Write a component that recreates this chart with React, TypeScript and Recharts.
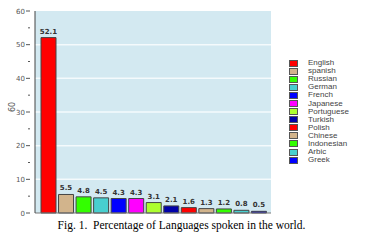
import React from 'react'
import { Bar, BarChart, CartesianGrid, Cell, LabelList, XAxis, YAxis } from 'recharts'

const languages = ['English', 'spanish', 'Russian', 'German', 'French', 'Japanese', 'Portuguese', 'Turkish', 'Polish', 'Chinese', 'Indonesian', 'Arbic', 'Greek']
const percents = [52.1, 5.5, 4.8, 4.5, 4.3, 4.3, 3.1, 2.1, 1.6, 1.3, 1.2, 0.8, 0.5]
const colors = ['#ff0000', '#d2b48c', '#33ff00', '#48cfcf', '#0000ff', '#ff00ff', '#adff2f', '#0000aa', '#ff0000', '#d2b48c', '#33ff00', '#48cfcf', '#0000ff']
const yTicks = [0, 5, 10, 15, 20, 25, 30, 35, 40, 45, 50, 55, 60]
const gridLines = [10, 20, 30, 40, 50]

const data = languages.map((name, i) => ({ name, value: percents[i] }))

const YTick = (props: any) => {
  const { x, y, payload } = props
  const major = payload.value % 10 === 0
  return (
    <g>
      <line x1={major ? x - 1 : x + 1} x2={x + 3} y1={y} y2={y} stroke="#555" strokeWidth={1} />
      {major && (
        <text x={x - 2} y={y} dy={2.5} textAnchor="end" fontSize={7} fill="#555" fontFamily="DejaVu Sans">
          {payload.value}
        </text>
      )}
    </g>
  )
}

const LegendList = () => (
  <div style={{ position: 'absolute', left: 289, top: 59, fontFamily: 'Liberation Sans, Arial', fontSize: 8, color: '#444' }}>
    {languages.map((l, i) => (
      <div key={l} style={{ display: 'flex', alignItems: 'center', height: 8.1 }}>
        <span style={{ width: 9, height: 7, background: colors[i], border: '1px solid #555', boxSizing: 'border-box', marginRight: 10 }} />
        <span style={{ lineHeight: '8px' }}>{l}</span>
      </div>
    ))}
  </div>
)

const App = () => {
  return (
    <div style={{ position: 'absolute', left: 0, top: 0, width: 375, height: 240, background: '#fff' }}>
      <BarChart width={375} height={240} data={data} margin={{ top: 11, right: 104, left: 0, bottom: 0 }}>
        <CartesianGrid
          vertical={false}
          horizontalCoordinatesGenerator={({ offset }: any) => gridLines.map((v) => offset.top + offset.height * (1 - v / 60))}
          fill="#d3e9f1"
          stroke="#f4fafc"
          strokeWidth={1.5}
        />
        <XAxis dataKey="name" tick={false} tickLine={false} height={27} padding={{ left: 5, right: 3 }} axisLine={{ stroke: '#777' }} />
        <XAxis xAxisId="top" orientation="top" dataKey="name" tick={false} tickLine={false} height={0} axisLine={{ stroke: '#888' }} />
        <YAxis
          domain={[0, 60]}
          ticks={yTicks}
          interval={0}
          width={35}
          tickLine={false}
          tick={<YTick />}
          axisLine={{ stroke: '#444' }}
          label={{ value: '60', angle: -90, position: 'insideLeft', offset: 12, fontSize: 8, fill: '#555', fontFamily: 'DejaVu Sans' }}
        />
        <YAxis yAxisId="right" orientation="right" domain={[0, 60]} tick={false} tickLine={false} width={0} axisLine={{ stroke: '#888' }} />
        <Bar dataKey="value" barSize={15} stroke="#444" strokeWidth={1} isAnimationActive={false}>
          {data.map((d, i) => (
            <Cell key={d.name} fill={colors[i]} />
          ))}
          <LabelList dataKey="value" position="top" offset={4} fontSize={7} fontWeight="bold" fill="#333" fontFamily="DejaVu Sans" />
        </Bar>
      </BarChart>
      <LegendList />
      <div style={{ position: 'absolute', left: 0, width: 375, top: 219, textAlign: 'center', fontFamily: 'Liberation Serif, Times New Roman', fontSize: 11.5, color: '#000' }}>
        <span style={{ marginLeft: -12 }}>Fig. 1.&nbsp; Percentage of Languages spoken in the world.</span>
      </div>
    </div>
  )
}

export default App
